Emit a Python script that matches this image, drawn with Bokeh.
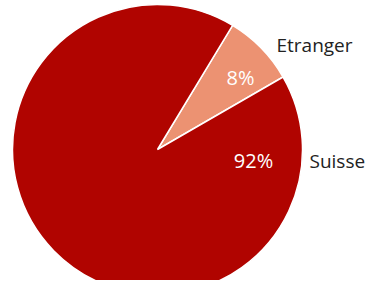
import math
from bokeh.plotting import figure
from bokeh.models import ColumnDataSource, Range1d
from bokeh.core.properties import value
from bokeh.embed import file_html
from bokeh.resources import INLINE

categories = ["Etranger", "Suisse"]
shares = [8, 92]
pct_labels = ["8%", "92%"]
colors = ["#EC9272", "#B00400"]

W, H = 368, 280
cx, cy, R = 157, 131, 145
start_deg = 30

total = sum(shares)
starts, ends = [], []
a = math.radians(start_deg)
for s in shares:
    starts.append(a)
    a += 2 * math.pi * s / total
    ends.append(a)

p = figure(width=W, height=H, output_backend="svg", toolbar_location=None,
           x_range=Range1d(0, W), y_range=Range1d(0, H), min_border=0,
           background_fill_color="white", border_fill_color="white")
p.axis.visible = False
p.grid.visible = False
p.outline_line_color = None

src = ColumnDataSource(dict(x=[cx] * len(shares), y=[cy] * len(shares),
                            start=starts, end=ends, color=colors))
p.wedge(x="x", y="y", radius=R, start_angle="start", end_angle="end",
        fill_color="color", line_color="white", line_width=1.5, source=src)

# inside percentage labels (offsets from centre, baseline anchored)
in_dx = [83, 96]
in_dy = [72, -11]
p.text(x=[cx + d for d in in_dx], y=[cy + d for d in in_dy], text=pct_labels,
       text_color="white", text_font=value("Open Sans"), text_font_size="20px",
       text_align="center", text_baseline="alphabetic")

# outside category labels
out_dx = [119, 152]
out_dy = [105, -11]
p.text(x=[cx + d for d in out_dx], y=[cy + d for d in out_dy], text=categories,
       text_color="#222222", text_font=value("Open Sans"), text_font_size="19px",
       text_align="left", text_baseline="alphabetic")

open("out.html", "w").write(file_html(p, INLINE))
